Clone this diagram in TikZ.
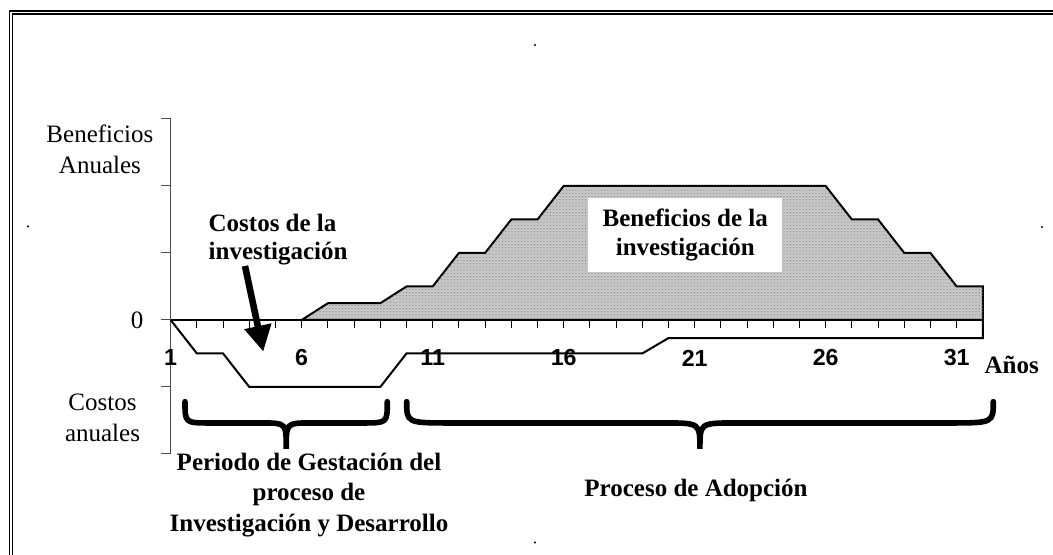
\documentclass[tikz,border=0pt]{standalone}
\usepackage{fontspec}
\setmainfont{Liberation Serif}
\setsansfont{Liberation Sans}
\usetikzlibrary{arrows.meta,patterns.meta}
\newcommand{\txt}{\fontsize{12.5}{15.3}\selectfont}
\newcommand{\btxt}{\fontsize{12.5}{13.7}\selectfont\bfseries}
\newcommand{\yr}{\fontsize{11.6}{12}\selectfont\sffamily\bfseries}

\begin{document}
\begin{tikzpicture}[x=13.1pt,y=33.5pt,inner sep=0pt]
\useasboundingbox (-5.515,-3.507) rectangle (34.676,4.776);

% marco doble
\draw[double,line width=0.9pt,double distance=0.65pt] (-5.095,4.59) rectangle (36,-4.5);

% beneficios
\draw[line width=1pt,fill=gray!45,postaction={pattern={Dots[radius=0.25pt,distance=1.6pt]},pattern color=black!55}]
  (6,0) -- (7,0.25) -- (9,0.25) -- (10,0.5) -- (11,0.5) -- (12,1) -- (13,1) -- (14,1.5) -- (15,1.5) -- (16,2)
  -- (26,2) -- (27,1.5) -- (28,1.5) -- (29,1) -- (30,1) -- (31,0.5) -- (32,0.5) -- (32,0) -- cycle;
\node[fill=white,minimum width=97pt,minimum height=36.7pt,align=center,font=\fontsize{12.5}{14.2}\selectfont\bfseries] (benef) at (20.64,1.269) {Beneficios de la\\investigaci\'on};

% ejes
\draw[black!70,line width=0.5pt] (1,3) -- (1,-2);
\foreach \l in {3,2,1,0,-1,-2}
  \draw[black!70,line width=0.5pt] (1,\l) -- ++(-0.355,0);
\foreach \t in {2,...,31}
  \draw[line width=0.5pt] (\t,0) -- (\t,-0.12);
\draw[line width=1.3pt] (1,0) -- (32,0);

% costos
\draw[line width=1pt] (1,0) -- (2,-0.5) -- (3,-0.5) -- (4,-1) -- (9,-1) -- (10,-0.5) -- (19,-0.5) -- (20,-0.27) -- (32,-0.27) -- (32,0);

\foreach \t in {1,6,...,31}
  \node[font=\yr] (y\t) at (\t,-0.567) {\t};
\node[font=\fontsize{12.5}{15}\selectfont\bfseries,anchor=base] (anios) at (33.1,-0.796) {A\~nos};

\node[font=\txt,align=center] (benlab) at (-1.70,2.545) {Beneficios\\Anuales};
\node[font=\txt] (cero) at (-0.285,0) {0};
\node[font=\txt,align=center] (coslab) at (-1.603,-1.465) {Costos\\anuales};

\node[font=\btxt,align=left,anchor=west] (costos) at (2.435,1.20) {Costos de la\\investigaci\'on};
\coordinate (flechaini) at (3.836,0.806);
\coordinate (flechafin) at (4.534,-0.473);
\draw[line width=3.3pt,-{Triangle[length=13pt,width=13pt]}] (flechaini) -- (flechafin);

% llaves
\draw[line width=2.8pt,line cap=round] (1.546,-1.219) .. controls (1.546,-1.537) .. (2.5,-1.537) -- (4.49,-1.537)
  .. controls (5.41,-1.537) .. (5.41,-1.925) .. controls (5.41,-1.537) .. (6.33,-1.537) -- (8.317,-1.537)
  .. controls (9.267,-1.537) .. (9.267,-1.219);
\draw[line width=2.8pt,line cap=round] (10.008,-1.219) .. controls (10.008,-1.537) .. (11.73,-1.537) -- (19.86,-1.537)
  .. controls (21.2,-1.537) .. (21.2,-1.925) .. controls (21.2,-1.537) .. (22.54,-1.537) -- (30.68,-1.537)
  .. controls (32.397,-1.537) .. (32.397,-1.219);

\node[font=\fontsize{12.5}{15.4}\selectfont\bfseries,align=center] (gestacion) at (6.279,-2.612) {Periodo de Gestaci\'on del\\proceso de\\Investigaci\'on y Desarrollo};
\node[font=\fontsize{12.5}{15}\selectfont\bfseries,anchor=base] (adopcion) at (21.05,-2.642) {Proceso de Adopci\'on};

% puntos sueltos
\fill (14.905,4.104) circle (0.6pt);
\fill (-4.447,1.396) circle (0.6pt);
\fill (34.256,1.388) circle (0.6pt);
\fill (14.905,-3.321) circle (0.6pt);

\end{tikzpicture}
\end{document}
